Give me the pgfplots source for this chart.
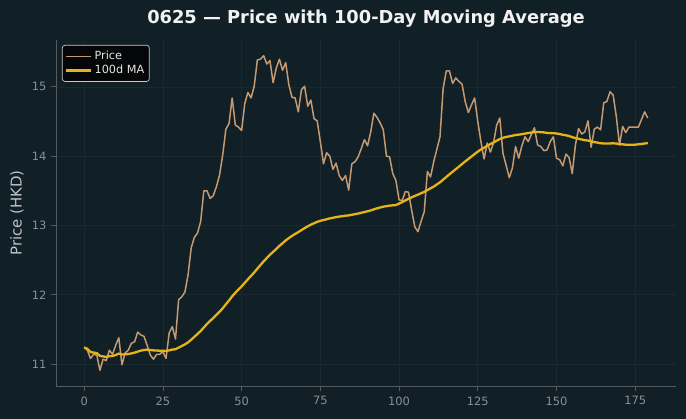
\documentclass[border=0pt]{standalone}
\usepackage{fontspec}
\setmainfont{DejaVu Sans}
\usepackage{pgfplots}
\usepackage{pgfplotstable}
\pgfplotsset{compat=1.18}

\definecolor{bgcol}{HTML}{111F27}
\definecolor{gridcol}{HTML}{1A2931}
\definecolor{spinecol}{HTML}{545B60}
\definecolor{tickcol}{HTML}{8A9096}
\definecolor{labelcol}{HTML}{BFC4C7}
\definecolor{titlecol}{HTML}{F2F2F2}
\definecolor{pricecol}{HTML}{C69A70}
\definecolor{macol}{HTML}{E6B416}
\definecolor{legbg}{HTML}{050607}
\definecolor{legdraw}{HTML}{C8C8C8}
\definecolor{legtext}{HTML}{E6E6E6}

% day, closing price, 100-day moving average
\pgfplotstableread{
d price ma
0 11.24 11.240
1 11.20 11.220
2 11.08 11.173
3 11.14 11.165
4 11.13 11.158
5 10.91 11.117
6 11.07 11.110
7 11.05 11.103
8 11.20 11.113
9 11.14 11.116
10 11.27 11.130
11 11.38 11.151
12 10.99 11.138
13 11.16 11.140
14 11.20 11.144
15 11.30 11.154
16 11.32 11.164
17 11.46 11.180
18 11.42 11.193
19 11.40 11.203
20 11.27 11.206
21 11.13 11.203
22 11.07 11.197
23 11.14 11.195
24 11.14 11.192
25 11.18 11.192
26 11.08 11.188
27 11.45 11.197
28 11.54 11.209
29 11.36 11.214
30 11.93 11.237
31 11.97 11.260
32 12.04 11.284
33 12.29 11.313
34 12.68 11.352
35 12.83 11.393
36 12.89 11.434
37 13.06 11.477
38 13.50 11.528
39 13.50 11.578
40 13.39 11.622
41 13.43 11.665
42 13.56 11.709
43 13.73 11.755
44 14.02 11.805
45 14.39 11.862
46 14.47 11.917
47 14.84 11.978
48 14.45 12.028
49 14.42 12.076
50 14.37 12.121
51 14.76 12.172
52 14.92 12.224
53 14.84 12.272
54 15.01 12.322
55 15.39 12.377
56 15.40 12.430
57 15.45 12.482
58 15.33 12.530
59 15.38 12.578
60 15.06 12.618
61 15.27 12.661
62 15.40 12.705
63 15.24 12.744
64 15.35 12.784
65 15.03 12.818
66 14.85 12.849
67 14.84 12.878
68 14.64 12.904
69 14.96 12.933
70 15.01 12.962
71 14.72 12.987
72 14.81 13.012
73 14.54 13.032
74 14.51 13.052
75 14.21 13.067
76 13.89 13.078
77 14.05 13.090
78 14.00 13.102
79 13.81 13.111
80 13.90 13.120
81 13.72 13.128
82 13.65 13.134
83 13.72 13.141
84 13.51 13.145
85 13.89 13.154
86 13.92 13.163
87 13.99 13.172
88 14.11 13.183
89 14.24 13.194
90 14.15 13.205
91 14.35 13.217
92 14.62 13.233
93 14.56 13.247
94 14.48 13.260
95 14.38 13.271
96 14.00 13.279
97 13.99 13.286
98 13.75 13.291
99 13.65 13.294
100 13.37 13.316
101 13.36 13.337
102 13.49 13.361
103 13.48 13.385
104 13.22 13.406
105 12.98 13.426
106 12.91 13.445
107 13.06 13.465
108 13.20 13.485
109 13.78 13.511
110 13.70 13.536
111 13.92 13.561
112 14.10 13.592
113 14.28 13.623
114 14.98 13.661
115 15.23 13.700
116 15.23 13.739
117 15.05 13.775
118 15.13 13.812
119 15.08 13.849
120 15.04 13.887
121 14.79 13.924
122 14.63 13.959
123 14.74 13.995
124 14.84 14.032
125 14.50 14.065
126 14.21 14.097
127 13.96 14.122
128 14.19 14.148
129 14.06 14.175
130 14.19 14.198
131 14.45 14.223
132 14.55 14.248
133 14.04 14.265
134 13.87 14.277
135 13.69 14.286
136 13.83 14.295
137 14.14 14.306
138 13.97 14.311
139 14.15 14.317
140 14.28 14.326
141 14.21 14.334
142 14.31 14.341
143 14.41 14.348
144 14.16 14.350
145 14.14 14.347
146 14.08 14.343
147 14.09 14.336
148 14.21 14.333
149 14.28 14.332
150 13.97 14.328
151 13.95 14.320
152 13.86 14.309
153 14.03 14.301
154 13.98 14.291
155 13.75 14.274
156 14.16 14.262
157 14.40 14.251
158 14.32 14.241
159 14.35 14.231
160 14.51 14.226
161 14.13 14.214
162 14.39 14.204
163 14.42 14.196
164 14.38 14.186
165 14.77 14.184
166 14.79 14.183
167 14.93 14.184
168 14.88 14.186
169 14.57 14.182
170 14.16 14.174
171 14.43 14.171
172 14.34 14.166
173 14.42 14.165
174 14.42 14.164
175 14.42 14.166
176 14.42 14.172
177 14.53 14.176
178 14.64 14.183
179 14.55 14.190
}\pricetable

\begin{document}
\begin{tikzpicture}
% page background
\fill[bgcol] (-56bp,-33bp) rectangle (630bp,386bp);
\begin{axis}[
  at={(0,0)}, anchor=south west,
  scale only axis, width=620bp, height=346bp,
  xmin=-8.95, xmax=187.95, ymin=10.683, ymax=15.677,
  axis lines*=left,
  axis line style={-, draw=spinecol, line width=0.8bp},
  tick align=outside, major tick length=5bp,
  tick style={draw=spinecol, line width=0.8bp},
  xtick={0,25,...,175}, ytick={11,12,13,14,15},
  grid=major,
  major grid style={draw=gridcol, line width=0.6bp},
  /pgf/number format/assume math mode=true,
  ticklabel style={font=\fontsize{11.5}{13}\selectfont, text=tickcol},
  xticklabel style={yshift=-2bp},
  yticklabel style={xshift=-1bp},
  ylabel={Price (HKD)},
  ylabel style={at={(axis description cs:-0.0629,0.5)}, anchor=center,
    font=\fontsize{15}{17}\selectfont, text=labelcol},
  title={0625 — Price with 100-Day Moving Average},
  title style={at={(axis description cs:0.5,1)}, anchor=center, yshift=15bp,
    font=\fontsize{17.9}{20}\selectfont\bfseries, text=titlecol},
  legend style={at={(axis description cs:0,1)}, anchor=north west,
    xshift=6bp, yshift=-5bp, fill=legbg, draw=legdraw, line width=0.7bp,
    rounded corners=2.5bp, text=legtext,
    font=\fontsize{11.3}{13.5}\selectfont,
    inner xsep=3bp, inner ysep=4bp, row sep=0bp},
  legend cell align=left,
  legend image code/.code={\draw[#1] (0bp,0bp) -- (25bp,0bp);},
]
\addplot[pricecol, line width=1.5bp, line join=round] table[x=d, y=price] {\pricetable};
\addlegendentry{Price}
\addplot[macol, line width=2.3bp, line join=round] table[x=d, y=ma] {\pricetable};
\addlegendentry{100d MA}
\end{axis}
\pgfresetboundingbox
\useasboundingbox (-56bp,-33bp) rectangle (630bp,386bp);
\end{tikzpicture}
\end{document}
